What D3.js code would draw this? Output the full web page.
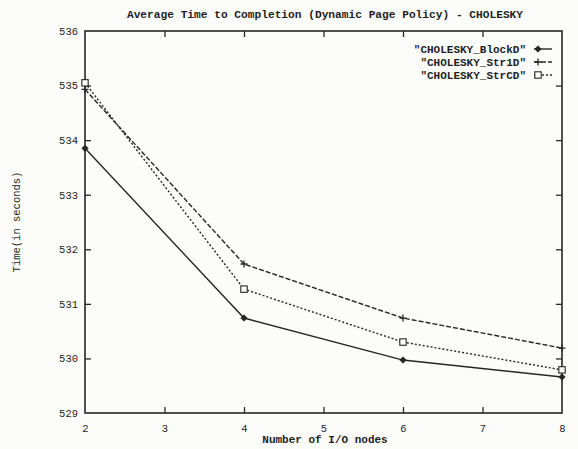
<!DOCTYPE html>
<html>
<head>
<meta charset="utf-8">
<script src="https://cdn.jsdelivr.net/npm/d3@7"></script>
<style>
  html, body { margin: 0; padding: 0; background: #fcfcfb; }
  svg { display: block; }
  text { font-family: "Liberation Mono", "DejaVu Sans Mono", monospace; fill: #1e1e1e; }
</style>
</head>
<body>
<script>
// I/O node counts on the x axis
const ioNodes = [2, 4, 6, 8];
// average completion time (seconds) for each data distribution
const blockD = [533.85, 530.74, 529.97, 529.66];
const str1D  = [534.93, 531.73, 530.74, 530.19];
const strCD  = [535.05, 531.27, 530.30, 529.79];

const xTicks = [2, 3, 4, 5, 6, 7, 8];
const yTicks = [529, 530, 531, 532, 533, 534, 535, 536];

const seriesNames = ['"CHOLESKY_BlockD"', '"CHOLESKY_Str1D"', '"CHOLESKY_StrCD"'];
const seriesValues = [blockD, str1D, strCD];

const W = 578, H = 449;
const margin = { left: 85, right: 16, top: 31, bottom: 36 };
const ink = "#262626";

const svg = d3.select("body").append("svg").attr("width", W).attr("height", H);

const x = d3.scaleLinear().domain([2, 8]).range([margin.left, W - margin.right]);
const y = d3.scaleLinear().domain([529, 536]).range([H - margin.bottom, margin.top]);

const tick = 6;

// x ticks: inward from the bottom edge and mirrored on the top edge
const xAxisB = d3.axisBottom(x).tickValues(xTicks).tickSize(-tick).tickPadding(12).tickFormat(d3.format("d"));
const gxb = svg.append("g").attr("transform", `translate(0,${y(529)})`).call(xAxisB);
const xAxisT = d3.axisTop(x).tickValues(xTicks).tickSize(-tick).tickFormat("");
const gxt = svg.append("g").attr("transform", `translate(0,${y(536)})`).call(xAxisT);

// y ticks: inward from the left edge and mirrored on the right edge
const yAxisL = d3.axisLeft(y).tickValues(yTicks).tickSize(-tick).tickPadding(7).tickFormat(d3.format("d"));
const gyl = svg.append("g").attr("transform", `translate(${x(2)},0)`).call(yAxisL);
const yAxisR = d3.axisRight(y).tickValues(yTicks).tickSize(-tick).tickFormat("");
const gyr = svg.append("g").attr("transform", `translate(${x(8)},0)`).call(yAxisR);

[gxb, gxt, gyl, gyr].forEach(g => {
  g.select(".domain").remove();
  g.selectAll(".tick line").attr("stroke", ink).attr("stroke-width", 1.3);
  g.selectAll(".tick text").attr("font-size", 10.5).attr("fill", "#1e1e1e")
    .style("font-family", '"Liberation Mono", "DejaVu Sans Mono", monospace');
});
// end ticks coincide with the frame
gxb.selectAll(".tick").filter(d => d === 2 || d === 8).select("line").remove();
gxt.selectAll(".tick").filter(d => d === 2 || d === 8).select("line").remove();
gyl.selectAll(".tick").filter(d => d === 529 || d === 536).select("line").remove();
gyr.selectAll(".tick").filter(d => d === 529 || d === 536).select("line").remove();

// plot frame
svg.append("rect")
  .attr("x", x(2)).attr("y", y(536))
  .attr("width", x(8) - x(2)).attr("height", y(529) - y(536))
  .attr("fill", "none").attr("stroke", ink).attr("stroke-width", 1.6);

// titles
svg.append("text").attr("x", 325).attr("y", 18).attr("text-anchor", "middle")
  .attr("font-size", 11.2).attr("font-weight", "bold")
  .text("Average Time to Completion (Dynamic Page Policy) - CHOLESKY");
svg.append("text").attr("x", 325).attr("y", 443).attr("text-anchor", "middle")
  .attr("font-size", 11).attr("font-weight", "bold")
  .text("Number of I/O nodes");
svg.append("text").attr("transform", `translate(20,${(y(529) + y(536)) / 2}) rotate(-90)`)
  .attr("text-anchor", "middle").attr("font-size", 10.5)
  .text("Time(in seconds)");

// line styles and markers per series
const dashes = [null, "5,2", "2,2"];
const line = d3.line().x((d, i) => x(ioNodes[i])).y(d => y(d));

function marker(g, k, cx, cy) {
  if (k === 0) {
    g.append("path").attr("d", `M${cx},${cy - 3.2}L${cx + 3.2},${cy}L${cx},${cy + 3.2}L${cx - 3.2},${cy}Z`)
      .attr("fill", ink).attr("stroke", ink).attr("stroke-width", 0.8);
  } else if (k === 1) {
    g.append("path").attr("d", `M${cx - 3.5},${cy}H${cx + 3.5}M${cx},${cy - 3.5}V${cy + 3.5}`)
      .attr("stroke", ink).attr("stroke-width", 1.3).attr("fill", "none");
  } else {
    g.append("rect").attr("x", cx - 3.2).attr("y", cy - 3.2).attr("width", 6.4).attr("height", 6.4)
      .attr("fill", "#fcfcfb").attr("stroke", ink).attr("stroke-width", 1.1);
  }
}

seriesValues.forEach((vals, k) => {
  const g = svg.append("g");
  g.append("path").datum(vals).attr("d", line)
    .attr("fill", "none").attr("stroke", ink).attr("stroke-width", 1.4)
    .attr("stroke-dasharray", dashes[k]);
  vals.forEach((v, i) => marker(g, k, x(ioNodes[i]), y(v)));
});

// legend: right-aligned labels with line samples
const legX = 526, legY0 = 49, legDy = 13;
seriesNames.forEach((name, k) => {
  const ly = legY0 + k * legDy;
  const g = svg.append("g");
  g.append("text").attr("x", legX).attr("y", ly + 3.5).attr("text-anchor", "end")
    .attr("font-size", 11).attr("font-weight", "bold").text(name);
  g.append("line").attr("x1", legX + 8).attr("x2", legX + 26).attr("y1", ly).attr("y2", ly)
    .attr("stroke", ink).attr("stroke-width", 1.4).attr("stroke-dasharray", dashes[k]);
  marker(g, k, legX + 12, ly);
});
</script>
</body>
</html>
